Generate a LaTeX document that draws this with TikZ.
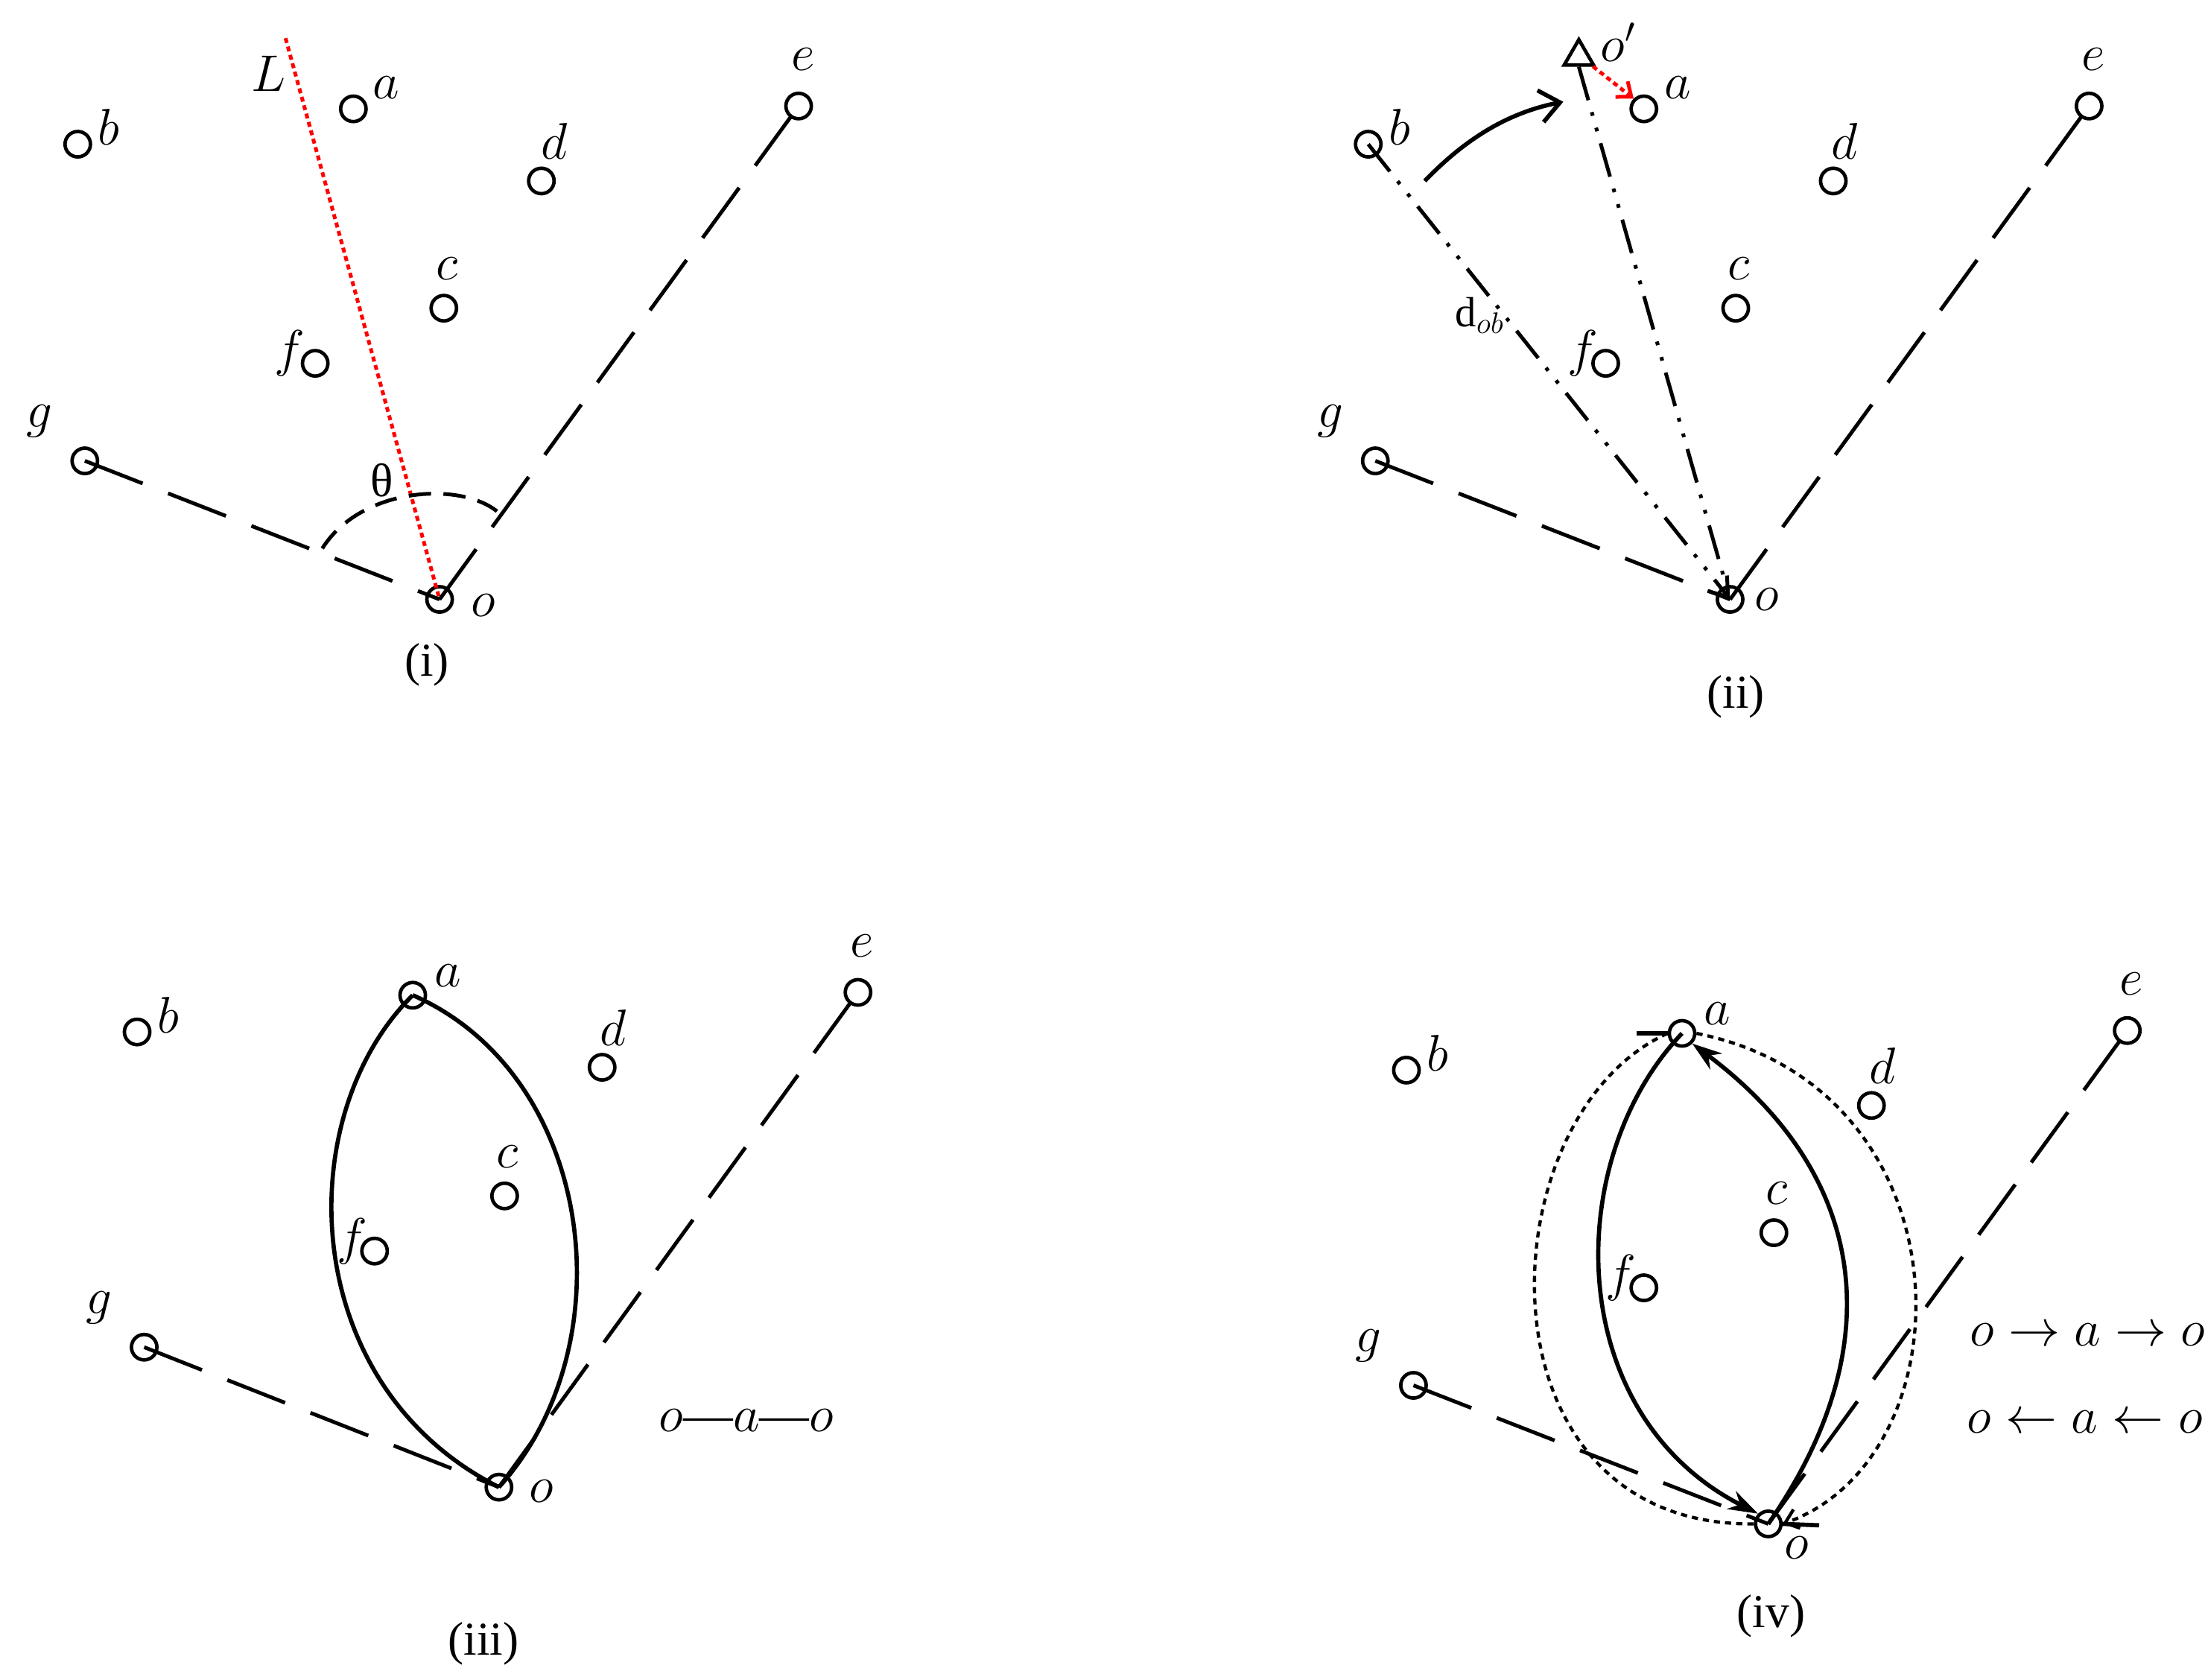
\documentclass[tikz,border=0pt]{standalone}
\usepackage{fontspec}
\setmainfont{Liberation Serif}
\usetikzlibrary{arrows.meta,shapes.geometric}
\begin{document}
\begin{tikzpicture}[x=0.02cm,y=-0.02cm,
  pt/.style={circle,draw,line width=1.4pt,minimum size=0.36cm,inner sep=0pt},
  lab/.style={font=\fontsize{20}{24}\selectfont,inner sep=0pt},
  capt/.style={font=\fontsize{19}{22}\selectfont,inner sep=0pt},
  ld/.style={line width=1.5pt,dash pattern=on 25pt off 11pt},
  ddd/.style={line width=1.5pt,dash pattern=on 14pt off 5pt on 1.5pt off 5pt on 1.5pt off 5pt},
  dotl/.style={line width=1.3pt,dash pattern=on 2.5pt off 2pt}]
\useasboundingbox (0,0) rectangle (1560,1188);
% ---------- (i)
\node[pt] (b1) at (55,102) {}; \node[lab] at (77,90) {$b$};
\node[pt] (a1) at (250,77) {}; \node[lab] at (273,62) {$a$};
\node[pt] (d1) at (383,128) {}; \node[lab] at (392,100) {$d$};
\node[pt] (e1) at (565,75) {}; \node[lab] at (568,42) {$e$};
\node[pt] (c1) at (314,218) {}; \node[lab] at (316,190) {$c$};
\node[pt] (f1) at (223,257) {}; \node[lab] at (205,250) {$f$};
\node[pt] (g1) at (60,326) {}; \node[lab] at (28,298) {$g$};
\node[pt] (o1) at (311,424) {}; \node[lab] at (342,428) {$o$};
\node[lab] (L) at (190,52) {$L$};
\coordinate (Ltop) at (202,27);
\draw[red,line width=1.5pt,dash pattern=on 2pt off 1.5pt] (Ltop) -- (o1.center);
\draw[ld] (g1.center) -- (o1.center);
\draw[ld] (o1.center) -- (e1.center);
\draw[line width=1.5pt,dash pattern=on 9pt off 5pt] (228,388) .. controls (255,345) and (325,340) .. (352,362);
\node[capt] at (270,340) {θ};
\node[capt] at (302,470) {(i)};
% ---------- (ii)
\node[pt] (b2) at (968,102) {}; \node[lab] at (990,90) {$b$};
\node[pt] (a2) at (1163,77) {}; \node[lab] at (1187,62) {$a$};
\node[pt] (d2) at (1297,128) {}; \node[lab] at (1305,100) {$d$};
\node[pt] (e2) at (1478,75) {}; \node[lab] at (1481,42) {$e$};
\node[pt] (c2) at (1228,218) {}; \node[lab] at (1230,190) {$c$};
\node[pt] (f2) at (1136,257) {}; \node[lab] at (1120,250) {$f$};
\node[pt] (g2) at (973,326) {}; \node[lab] at (941,298) {$g$};
\node[pt] (o2) at (1224,424) {}; \node[lab] at (1250,424) {$o$};
\node[draw,line width=1.4pt,isosceles triangle,isosceles triangle apex angle=60,shape border rotate=90,minimum size=0.36cm,inner sep=0pt] (op) at (1117,40) {};
\node[lab] at (1145,30) {$o'$};
\draw[red,line width=1.5pt,dash pattern=on 2pt off 1.5pt,-{Straight Barb[length=5pt,width=8pt]}] (1127,47) -- (a2.north west);
\draw[ddd,-{Straight Barb[length=7pt,width=10pt]}] (b2.center) -- (o2.center);
\draw[ddd] (op.south) -- (o2.center);
\coordinate (cs) at (1008,128); \coordinate (ce) at (1106,72);
\draw[line width=1.7pt,-{Straight Barb[length=8pt,width=13pt]}] (cs) .. controls (1035,100) and (1065,80) .. (ce);
\node[inner sep=0pt,font=\fontsize{17}{20}\selectfont] at (1047,223) {d\textsubscript{$ob$}};
\node[capt] at (1228,493) {(ii)};
\draw[ld] (g2.center) -- (o2.center);
\draw[ld] (o2.center) -- (e2.center);
% ---------- (iii)
\node[pt] (b3) at (97,730) {}; \node[lab] at (119,718) {$b$};
\node[pt] (a3) at (292,704) {}; \node[lab] at (317,690) {$a$};
\node[pt] (d3) at (426,755) {}; \node[lab] at (434,727) {$d$};
\node[pt] (e3) at (607,702) {}; \node[lab] at (610,669) {$e$};
\node[pt] (c3) at (357,846) {}; \node[lab] at (359,818) {$c$};
\node[pt] (f3) at (265,885) {}; \node[lab] at (249,878) {$f$};
\node[pt] (g3) at (102,953) {}; \node[lab] at (70,925) {$g$};
\node[pt] (o3) at (353,1052) {}; \node[lab] at (383,1055) {$o$};
\draw[ld] (g3.center) -- (o3.center);
\draw[ld] (o3.center) -- (e3.center);
\draw[line width=1.7pt] (a3.center) .. controls (205,790) and (210,980) .. (o3.center);
\draw[line width=1.7pt] (a3.center) .. controls (420,760) and (445,950) .. (o3.center);
\node[lab] at (528,1005) {$o$—$a$—$o$};
\node[capt] at (342,1163) {(iii)};
% ---------- (iv)
\node[pt] (b4) at (995,757) {}; \node[lab] at (1017,745) {$b$};
\node[pt] (a4) at (1190,731) {}; \node[lab] at (1215,717) {$a$};
\node[pt] (d4) at (1324,782) {}; \node[lab] at (1332,754) {$d$};
\node[pt] (e4) at (1505,729) {}; \node[lab] at (1508,696) {$e$};
\node[pt] (c4) at (1255,872) {}; \node[lab] at (1257,844) {$c$};
\node[pt] (f4) at (1163,911) {}; \node[lab] at (1147,904) {$f$};
\node[pt] (g4) at (1000,980) {}; \node[lab] at (968,952) {$g$};
\node[pt] (o4) at (1251,1078) {}; \node[lab] at (1271,1095) {$o$};
\draw[ld] (g4.center) -- (o4.center);
\draw[ld] (o4.center) -- (e4.center);
\draw[line width=1.7pt,-{Stealth[length=12pt,width=8pt]}] (a4.center) .. controls (1105,820) and (1105,1000) .. (o4.north west);
\draw[line width=1.7pt,-{Stealth[length=12pt,width=8pt]}] (o4.center) .. controls (1340,950) and (1320,830) .. (a4.south east);
\draw[dotl] (a4.west) .. controls (1050,790) and (1040,1080) .. (o4.west);
\draw[dotl,-{Straight Barb[length=5pt,width=8pt]}] (a4.east) .. controls (1395,770) and (1395,1030) .. (o4.east);
\coordinate (t1) at (1158,731); \coordinate (t2) at (1287,1079);
\draw[line width=1.7pt] (t1) -- (a4.west);
\draw[line width=1.7pt] (o4.east) -- (t2);
\node[lab] at (1477,944) {$o\rightarrow a\rightarrow o$};
\node[lab] at (1475,1006) {$o\leftarrow a\leftarrow o$};
\node[capt] at (1253,1143) {(iv)};
\end{tikzpicture}
\end{document}
